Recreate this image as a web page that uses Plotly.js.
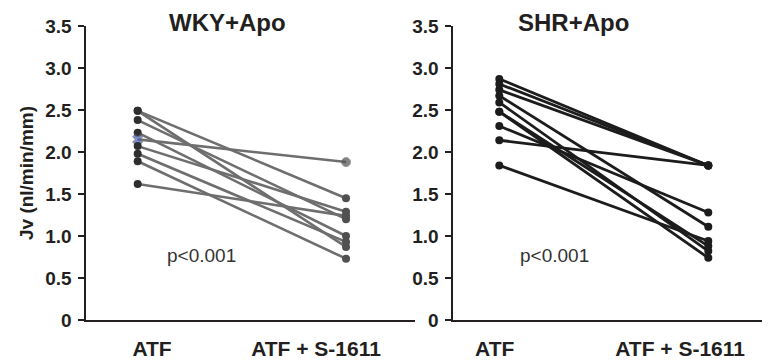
<!DOCTYPE html>
<html>
<head>
<meta charset="utf-8">
<script src="https://cdn.plot.ly/plotly-3.0.1.min.js"></script>
<style>html,body{margin:0;padding:0;background:#fff;}#chart{width:768px;height:364px;}</style>
</head>
<body>
<div id="chart"></div>
<script>
// ---- data ----
const categories = ["ATF", "ATF + S-1611"];
const panelTitles = ["WKY+Apo", "SHR+Apo"];
const pText = ["p<0.001", "p<0.001"];
const yTitle = "Jv (nl/min/mm)";
const yTickVals = [0, 0.5, 1.0, 1.5, 2.0, 2.5, 3.0, 3.5];
const yTickText = ["0", "0.5", "1.0", "1.5", "2.0", "2.5", "3.0", "3.5"];

// WKY+Apo: paired values (ATF -> ATF + S-1611)
const wkyAtf   = [2.49, 2.49, 2.38, 2.23, 2.15, 2.07, 1.98, 1.89, 1.62];
const wkyS1611 = [1.45, 0.87, 1.20, 1.00, 1.88, 1.29, 0.93, 0.73, 1.24];
// SHR+Apo
const shrAtf   = [2.87, 2.81, 2.74, 2.14, 2.31, 1.84, 2.67, 2.59, 2.48, 2.48];
const shrS1611 = [1.84, 1.84, 1.84, 1.84, 1.28, 0.94, 1.11, 0.82, 0.74, 0.88];

const FONT = "Liberation Sans, Arial, Helvetica, sans-serif";
const TXT = "#231f20";
const xIdx = categories.map((c, i) => i);

const traces = [];
wkyAtf.forEach((v, i) => {
  const blue = Math.abs(v - 2.15) < 1e-9;
  traces.push({
    x: xIdx, y: [v, wkyS1611[i]], xaxis: "x", yaxis: "y",
    type: "scatter", mode: "lines+markers", hoverinfo: "skip", showlegend: false,
    line: {color: "#6e6e6e", width: 2.6},
    marker: {size: blue ? [9, 9] : 8, color: blue ? ["#4a5fb8", "#505050"] : ["#2e2e2e", "#505050"],
             symbol: blue ? ["x", "circle"] : ["circle", "circle"]}
  });
});
shrAtf.forEach((v, i) => {
  traces.push({
    x: xIdx, y: [v, shrS1611[i]], xaxis: "x2", yaxis: "y2",
    type: "scatter", mode: "lines+markers", hoverinfo: "skip", showlegend: false,
    line: {color: "#1c1c1c", width: 2.8},
    marker: {size: 8, color: "#1c1c1c"}
  });
});

const yax = (anchor) => ({
  anchor: anchor, domain: [44/364, 338/364], range: [0, 3.5],
  tickvals: yTickVals, ticktext: yTickText,
  ticks: "outside", ticklen: 6, tickwidth: 1.3, tickcolor: TXT,
  showline: true, linecolor: TXT, linewidth: 1.6,
  showgrid: false, zeroline: false, ticklabelstandoff: 3,
  tickfont: {family: FONT, size: 19, color: TXT, weight: "bold"}
});
const xax = (anchor, dom, rng, tv) => ({
  anchor: anchor, domain: dom, range: rng,
  tickvals: tv, ticktext: categories, ticks: "",
  showline: true, linecolor: TXT, linewidth: 1.6,
  showgrid: false, zeroline: false, ticklabelstandoff: 9,
  tickfont: {family: FONT, size: 21, color: TXT, weight: "bold"}
});

const y1 = yax("x");
y1.title = {text: yTitle, standoff: 6, font: {family: FONT, size: 19, color: TXT, weight: "bold"}};

const layout = {
  width: 768, height: 364,
  margin: {l: 0, r: 0, t: 0, b: 0, autoexpand: false},
  paper_bgcolor: "#ffffff", plot_bgcolor: "#ffffff",
  showlegend: false,
  xaxis: xax("y", [86/768, 415/768], [-0.248, 1.331], [0.069, 0.856]),
  yaxis: y1,
  xaxis2: xax("y2", [453/768, 762/768], [-0.2215, 1.257], [-0.022, 0.865]),
  yaxis2: yax("x2"),
  annotations: [
    {text: panelTitles[0], xref: "paper", yref: "paper", x: 227/768, y: 1 - 22/364,
     xanchor: "center", yanchor: "middle", showarrow: false,
     font: {family: FONT, size: 24, color: TXT, weight: "bold"}},
    {text: panelTitles[1], xref: "paper", yref: "paper", x: 573/768, y: 1 - 22/364,
     xanchor: "center", yanchor: "middle", showarrow: false,
     font: {family: FONT, size: 24, color: TXT, weight: "bold"}},
    {text: pText[0], xref: "x", yref: "y", x: 0.306, y: 0.77,
     xanchor: "center", yanchor: "middle", showarrow: false,
     font: {family: FONT, size: 19, color: "#333333"}},
    {text: pText[1], xref: "x2", yref: "y2", x: 0.262, y: 0.77,
     xanchor: "center", yanchor: "middle", showarrow: false,
     font: {family: FONT, size: 19, color: "#333333"}}
  ]
};

Plotly.newPlot("chart", traces, layout, {staticPlot: true, displayModeBar: false});
</script>
</body>
</html>
